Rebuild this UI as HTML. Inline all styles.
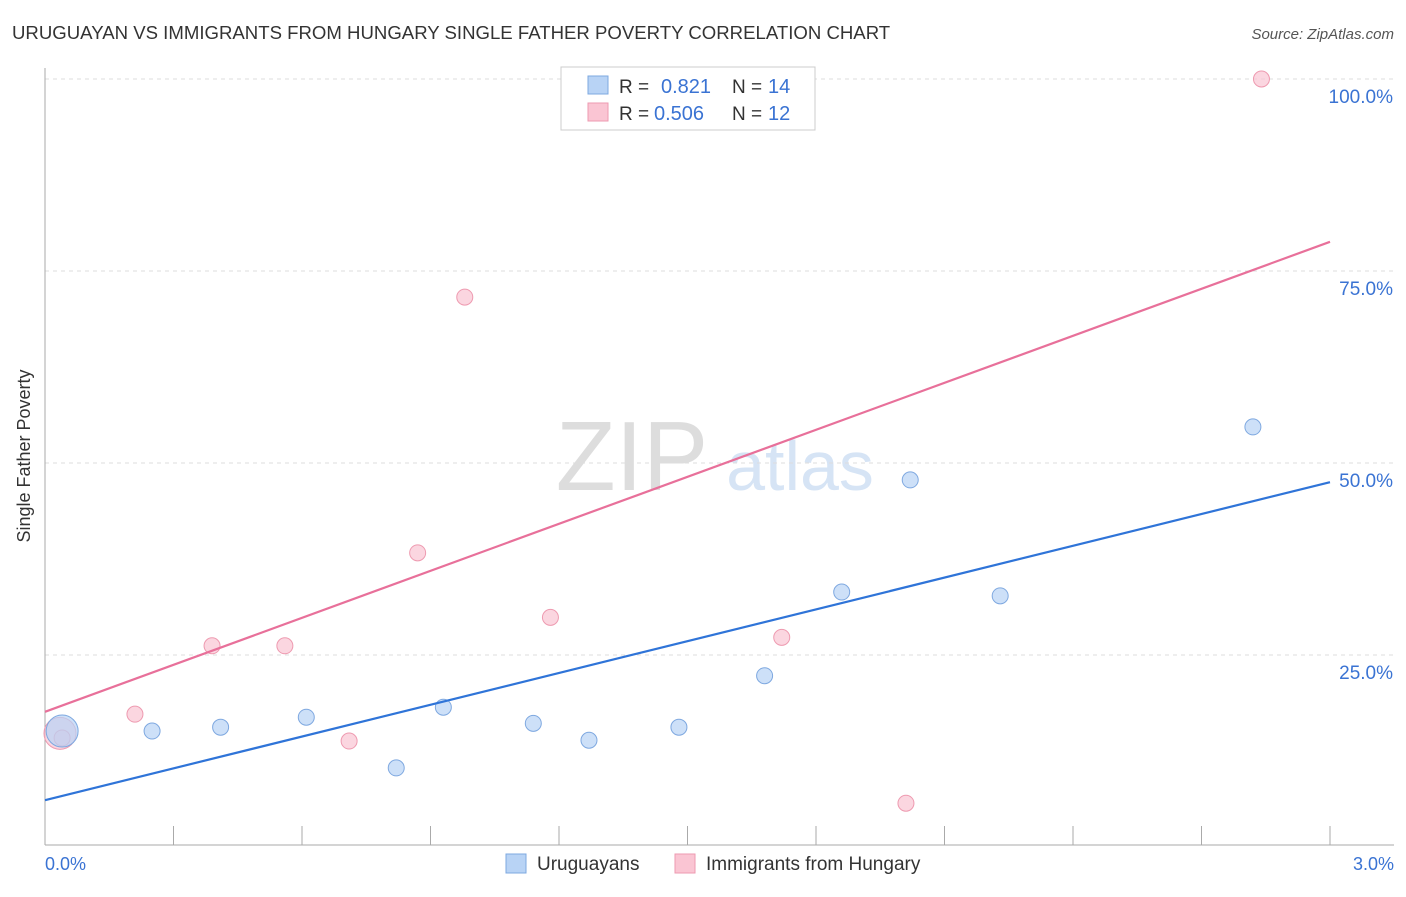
<!DOCTYPE html>
<html><head><meta charset="utf-8"><style>
body{margin:0;background:#fff;font-family:"Liberation Sans",sans-serif}
svg text{font-family:"Liberation Sans",sans-serif}
</style></head><body>
<svg id="c" width="1406" height="892" xmlns="http://www.w3.org/2000/svg">
<text x="12" y="39" font-size="18.6" fill="#333">URUGUAYAN VS IMMIGRANTS FROM HUNGARY SINGLE FATHER POVERTY CORRELATION CHART</text>
<text x="1394" y="39" font-size="15" fill="#555" text-anchor="end" font-style="italic">Source: ZipAtlas.com</text>
<text x="30" y="456" font-size="18" fill="#333" text-anchor="middle" transform="rotate(-90 30 456)">Single Father Poverty</text>
<text x="632" y="490" font-size="98" fill="#ddd" font-family="Liberation Serif" text-anchor="middle">ZIP</text>
<text x="800" y="490" font-size="70" fill="#d6e4f5" text-anchor="middle">atlas</text>
<g id="grid"></g><g id="marks"></g>
<g>
<rect x="561" y="67" width="254" height="63" fill="#fff" stroke="#ccc"/>
<rect x="588" y="76" width="20" height="18" fill="#b8d3f5" stroke="#7ea8e0"/>
<rect x="588" y="103" width="20" height="18" fill="#fac5d3" stroke="#ee9ab0"/>
<text x="619" y="93" font-size="19" fill="#333">R =</text><text x="661" y="93" font-size="20" fill="#3a73d3">0.821</text>
<text x="732" y="93" font-size="19" fill="#333">N =</text><text x="768" y="93" font-size="20" fill="#3a73d3">14</text>
<text x="619" y="120" font-size="19" fill="#333">R =</text><text x="654" y="120" font-size="20" fill="#3a73d3">0.506</text>
<text x="732" y="120" font-size="19" fill="#333">N =</text><text x="768" y="120" font-size="20" fill="#3a73d3">12</text>
</g>
<g>
<rect x="506" y="854" width="20" height="19" fill="#b8d3f5" stroke="#7ea8e0"/>
<text x="537" y="870" font-size="19" fill="#333">Uruguayans</text>
<rect x="675" y="854" width="20" height="19" fill="#fac5d3" stroke="#ee9ab0"/>
<text x="706" y="870" font-size="19" fill="#333">Immigrants from Hungary</text>
</g>
<text x="45" y="870" font-size="18" fill="#3a73d3">0.0%</text>
<text x="1394" y="870" font-size="18" fill="#3a73d3" text-anchor="end">3.0%</text>
</svg>
<script>
const blueX=[0.04,0.25,0.41,0.61,0.82,0.93,1.14,1.27,1.48,1.68,1.86,2.02,2.23,2.82];
const blueY=[15.1,15.1,15.6,16.9,10.3,18.2,16.1,13.9,15.6,22.3,33.2,47.8,32.7,54.7];
const pinkX=[0.035,0.04,0.21,0.39,0.56,0.71,0.87,0.98,1.18,1.72,2.01,2.84];
const pinkY=[14.8,14.2,17.3,26.2,26.2,13.8,38.3,71.6,29.9,27.3,5.7,100];
const blueLine=[6.1,47.5];
const pinkLine=[17.6,78.8];
const yTicks=[25,50,75,100];
const yTickLabels=["25.0%","50.0%","75.0%","100.0%"];
const NS="http://www.w3.org/2000/svg";
const X=v=>45+v/3*1285, Y=v=>847-v*7.68;
function mk(t,a,p){const e=document.createElementNS(NS,t);for(const k in a)e.setAttribute(k,a[k]);document.getElementById(p).appendChild(e);return e;}
yTicks.forEach((t,i)=>{
 const g=mk('line',{x1:45,x2:1394,y1:Y(t),y2:Y(t),stroke:'#ddd','stroke-dasharray':'4,4'},'grid');
 
 
 const l=mk('text',{x:1393,y:Y(t)+24,'font-size':19,fill:'#3a73d3','text-anchor':'end'},'grid');
 l.textContent=yTickLabels[i];
 
 
});
const ax=mk('line',{x1:45,x2:45,y1:68,y2:845,stroke:'#aaa'},'grid');


const bx=mk('line',{x1:45,x2:1394,y1:845,y2:845,stroke:'#aaa'},'grid');


for(let i=1;i<=10;i++){const t=mk('line',{x1:45+i*128.5,x2:45+i*128.5,y1:826,y2:845,stroke:'#aaa'},'grid');
 
 }
function pts(xs,ys,fill,stroke,name){xs.forEach((x,i)=>{const big=i===0;const c=mk('circle',{cx:X(x),cy:Y(ys[i]),r:big?16:8,fill:fill,stroke:stroke,'stroke-width':1,'fill-opacity':0.7},'marks');
 
 });}
pts(pinkX,pinkY,'#fac5d3','#ee9ab0','point-hungary');
pts(blueX,blueY,'#b8d3f5','#7ea8e0','point-uruguayan');
const pl=mk('line',{x1:X(0),y1:Y(pinkLine[0]),x2:X(3),y2:Y(pinkLine[1]),stroke:'#e8709a','stroke-width':2.2},'marks');


const bl=mk('line',{x1:X(0),y1:Y(blueLine[0]),x2:X(3),y2:Y(blueLine[1]),stroke:'#2f74d8','stroke-width':2.2},'marks');


</script>
</body></html>
